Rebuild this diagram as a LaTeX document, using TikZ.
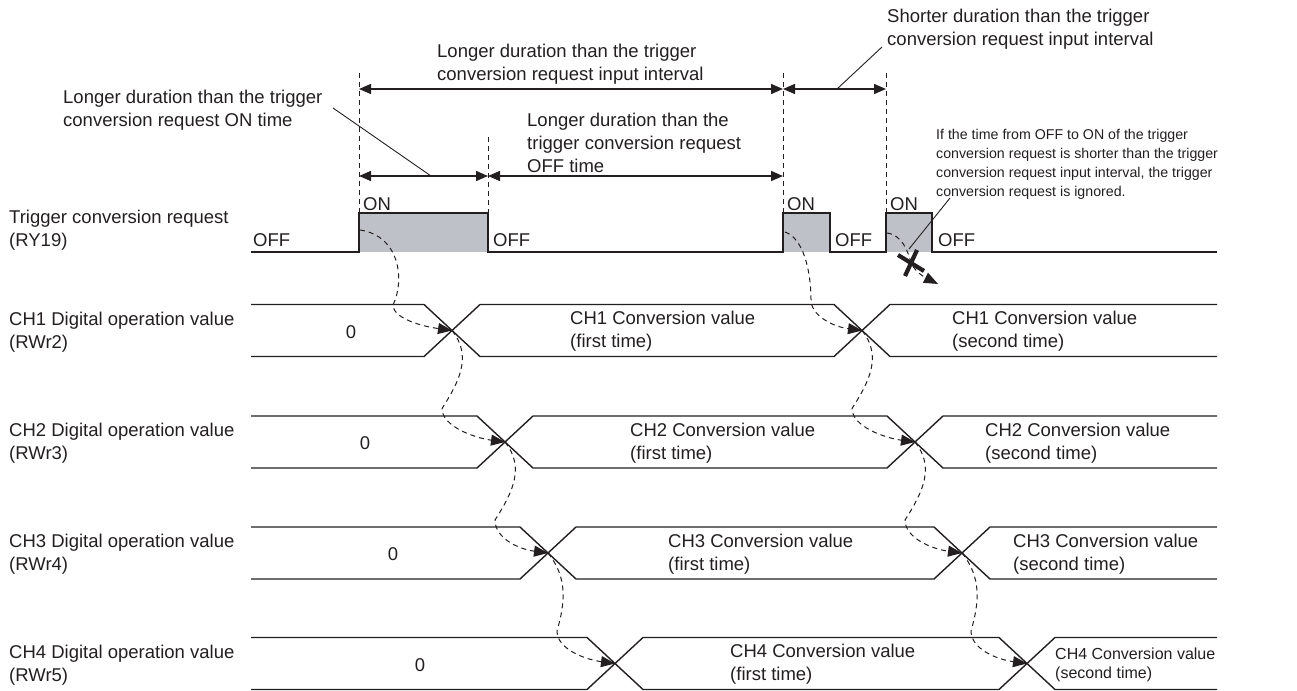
\documentclass[tikz,border=0pt]{standalone}
\usepackage{fontspec}
\setmainfont{Liberation Sans}
\usetikzlibrary{arrows.meta,calc}
\definecolor{ink}{HTML}{231F20}
\definecolor{pulse}{HTML}{BEC2C8}
\begin{document}
\begin{tikzpicture}[x=1pt,y=-1pt,
  sig/.style={ink,line width=1.4pt},
  guide/.style={ink,line width=0.8pt,dash pattern=on 5pt off 4pt},
  dim/.style={ink,line width=1.4pt,{Triangle[length=12pt,width=10pt]}-{Triangle[length=12pt,width=10pt]}},
  leader/.style={ink,line width=0.9pt},
  cause/.style={ink,line width=1pt,dash pattern=on 5pt off 4pt,-{Triangle[length=14pt,width=11pt]}},
  txt/.style={text=ink,font=\fontsize{18.5}{23}\selectfont,inner sep=0pt,align=left},
  note/.style={text=ink,font=\fontsize{14.2}{19}\selectfont,inner sep=0pt,align=left}]
  \useasboundingbox (0,0) rectangle (1297,690);
  \coordinate (dimA) at (0,89);
  \coordinate (dimB) at (0,176);
  \coordinate (r1) at (359,213); \coordinate (f1) at (488,213);
  \coordinate (r2) at (783,213); \coordinate (f2) at (830,213);
  \coordinate (r3) at (886,213); \coordinate (f3) at (932,213);
  % trigger conversion request
  \fill[pulse] (r1) rectangle (488,252);
  \fill[pulse] (r2) rectangle (830,252);
  \fill[pulse] (r3) rectangle (932,252);
  \draw[sig] (251,252) -| (r1) -| (488,252) -| (r2) -| (830,252) -| (r3) -| (932,252) -- (1217,252);
  \foreach \p/\y in {r1/73,f1/137,r2/73,r3/73}{\draw[guide] (\p |- 0,\y) -- (\p);}
  \draw[dim] (r1 |- dimA) -- (r2 |- dimA);
  \draw[dim] (r2 |- dimA) -- (r3 |- dimA);
  \draw[dim] (r1 |- dimB) -- (f1 |- dimB);
  \draw[dim] (f1 |- dimB) -- (r2 |- dimB);
  \foreach \x [count=\i] in {363,787,890}{\node[txt,anchor=base west] (on\i) at (\x,210) {ON};}
  \foreach \x [count=\i] in {253,493,835,938}{\node[txt,anchor=base west] (off\i) at (\x,246) {OFF};}
  % digital operation values
  \foreach \n/\yc/\xa/\xb in {1/330.5/452/862,2/442/505/915,3/553/548/962,4/663.5/615/1027}{
    \coordinate (a\n) at (\xa,\yc);
    \coordinate (b\n) at (\xb,\yc);
    \draw[sig] (251,\yc-26) -- (\xa-28,\yc-26) -- (\xa+28,\yc+26) -- (\xb-28,\yc+26) -- (\xb+28,\yc-26) -- (1217,\yc-26);
    \draw[sig] (251,\yc+26) -- (\xa-28,\yc+26) -- (\xa+28,\yc-26) -- (\xb-28,\yc-26) -- (\xb+28,\yc+26) -- (1217,\yc+26);
  }
  \node[txt,anchor=west] (trig) at (9,230) {Trigger conversion request\\(RY19)};
  \foreach \n/\yc/\reg/\zx/\vx/\wx/\fs/\ls in {1/330.5/RWr2/351/570/952/18.5/23,2/442/RWr3/365/630/985/18.5/23,3/553/RWr4/393/668/1013/18.5/23,4/663.5/RWr5/420/730/1055/16/19}{
    \node[txt,anchor=west] (lab\n) at (9,\yc+1.5) {CH\n\ Digital operation value\\(\reg)};
    \node[txt] (zero\n) at (\zx,\yc+1.5) {0};
    \node[txt,anchor=west] (first\n) at (\vx,\yc+1) {CH\n\ Conversion value\\(first time)};
    \node[txt,anchor=west,font=\fontsize{\fs}{\ls}\selectfont] (second\n) at (\wx,\yc+1) {CH\n\ Conversion value\\(second time)};
  }
  % conversion sequence
  \coordinate (s1) at (360,230);
  \coordinate (s2) at (785,232);
  \draw[cause] (s1) .. controls +(40,6) and +(12,-25) .. ++(33,75) .. controls +(0,12) and +(-35,-5) .. (a1);
  \draw[cause] (s2) .. controls +(18,6) and +(0,-30) .. ++(26,68) .. controls +(0,15) and +(-30,-4) .. (b1);
  \foreach \u/\v/\mx/\cx in {a1/a2/-10/18,a2/a3/-10/18,a3/a4/9/8,b1/b2/-10/18,b2/b3/-10/18,b3/b4/9/8}{
    \draw[cause] (\u) .. controls +(20,25) and +(\cx,-28) .. ++(\mx,78) .. controls +(0,18) and +(-30,-4) .. (\v);
  }
  % ignored request
  \coordinate (s3) at (887,233);
  \coordinate (xm) at (911,263);
  \coordinate (t3) at (938,284);
  \draw[cause] (s3) .. controls +(15,2) and +(-3,-12) .. (xm) .. controls +(5,10) and +(-12,-6) .. (t3);
  \draw[ink,line width=4.2pt] (xm) ++(-13,-8) -- ++(26,16) (xm) ++(6,-13) -- ++(-12,26);
  % annotations
  \node[txt,anchor=west] (inlong) at (437,64.5) {Longer duration than the trigger\\conversion request input interval};
  \node[txt,anchor=west] (offlong) at (527,143) {Longer duration than the\\trigger conversion request\\OFF time};
  \node[txt,anchor=west] (onlong) at (63,110) {Longer duration than the trigger\\conversion request ON time};
  \node[txt,anchor=west] (inshort) at (887,29) {Shorter duration than the trigger\\conversion request input interval};
  \node[note,anchor=west] (ignored) at (936,164) {If the time from OFF to ON of the trigger\\conversion request is shorter than the trigger\\conversion request input interval, the trigger\\conversion request is ignored.};
  \coordinate (ldA1) at (837,89); \coordinate (ldA2) at (882,47);
  \coordinate (ldB1) at (333,108); \coordinate (ldB2) at (431,176);
  \coordinate (ldC1) at (909,249); \coordinate (ldC2) at (950,198);
  \draw[leader] (ldA1) -- (ldA2);
  \draw[leader] (ldB1) -- (ldB2);
  \draw[leader] (ldC1) -- (ldC2);
\end{tikzpicture}
\end{document}
